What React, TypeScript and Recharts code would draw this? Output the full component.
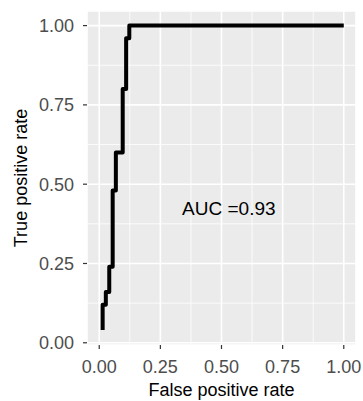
import {
  LineChart,
  Line,
  XAxis,
  YAxis,
  CartesianGrid,
  ReferenceLine,
  ReferenceDot,
} from "recharts";

// ROC step path
const fpr = [
  0.014, 0.014, 0.027, 0.027, 0.041, 0.041, 0.055, 0.055, 0.068, 0.068, 0.096,
  0.096, 0.11, 0.11, 0.123, 0.123, 1.0,
];
const tpr = [
  0.04, 0.12, 0.12, 0.16, 0.16, 0.24, 0.24, 0.48, 0.48, 0.6, 0.6, 0.8, 0.8,
  0.96, 0.96, 1.0, 1.0,
];
const majorTicks = [0, 0.25, 0.5, 0.75, 1];
const minorTicks = [0.125, 0.375, 0.625, 0.875];
const aucText = "AUC =0.93";

const data = fpr.map((x, i) => ({ fpr: x, tpr: tpr[i] }));

const font = "'Liberation Sans', Arial, Helvetica, sans-serif";
const tickStyle = { fontSize: 18, fill: "#4D4D4D", fontFamily: font };

export default function App() {
  return (
    <div style={{ position: "absolute", left: 0, top: 0 }}>
      <LineChart
        width={363}
        height={401}
        data={data}
        margin={{ top: 11, right: 7, left: 0, bottom: 0 }}
        style={{ fontFamily: font }}
      >
        <CartesianGrid fill="#EBEBEB" stroke="#FFFFFF" strokeWidth={1.6} />
        {minorTicks.map((v) => (
          <ReferenceLine key={"mx" + v} x={v} stroke="#FFFFFF" strokeWidth={0.8} />
        ))}
        {minorTicks.map((v) => (
          <ReferenceLine key={"my" + v} y={v} stroke="#FFFFFF" strokeWidth={0.8} />
        ))}
        <XAxis
          dataKey="fpr"
          type="number"
          domain={[-0.05, 1.05]}
          ticks={majorTicks}
          allowDataOverflow
          tickFormatter={(v: number) => v.toFixed(2)}
          tick={tickStyle}
          axisLine={false}
          tickLine={{ stroke: "#333333", strokeWidth: 1.2 }}
          tickSize={4}
          tickMargin={11}
          height={56}
          label={{
            value: "False positive rate",
            position: "insideBottom",
            offset: 5,
            style: { fontSize: 18, fill: "#000000", fontFamily: font },
          }}
        />
        <YAxis
          type="number"
          domain={[-0.007, 1.046]}
          ticks={majorTicks}
          allowDataOverflow
          tickFormatter={(v: number) => v.toFixed(2)}
          tick={tickStyle}
          axisLine={false}
          tickLine={{ stroke: "#333333", strokeWidth: 1.2 }}
          tickSize={4}
          tickMargin={9}
          width={87}
          label={{
            value: "True positive rate",
            angle: -90,
            position: "insideLeft",
            offset: 21,
            style: {
              fontSize: 18,
              fill: "#000000",
              fontFamily: font,
              textAnchor: "middle",
            },
          }}
        />
        <Line
          dataKey="tpr"
          type="linear"
          stroke="#000000"
          strokeWidth={4}
          strokeLinejoin="round"
          dot={false}
          isAnimationActive={false}
        />
        <ReferenceDot
          x={0.53}
          y={0.423}
          r={0}
          fill="none"
          stroke="none"
          label={{
            value: aucText,
            position: "center",
            style: { fontSize: 19, fill: "#000000", fontFamily: font },
          }}
        />
      </LineChart>
    </div>
  );
}
